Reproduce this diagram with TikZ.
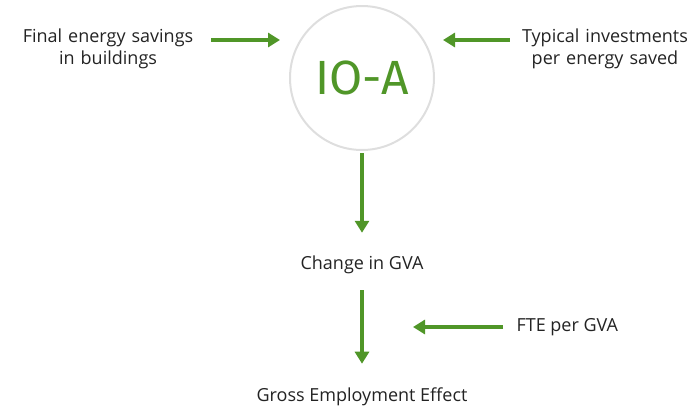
\documentclass[tikz,border=0pt]{standalone}
\usepackage{fontspec}
\setmainfont{Open Sans}
\newfontfamily\ringfont{Fira Sans}
\usetikzlibrary{arrows.meta,positioning}
\definecolor{ecgreen}{RGB}{80,150,40}
\definecolor{ringgrey}{RGB}{222,222,222}
\definecolor{labelgrey}{RGB}{35,35,35}
\tikzset{
  label text/.style={font=\fontsize{18}{22}\selectfont,text=labelgrey,align=center},
  flow/.style={draw=ecgreen,line width=4pt,-{Triangle[width=14pt,length=12pt]}},
}

\begin{document}
\begin{tikzpicture}[x=1pt,y=-1pt]
\useasboundingbox (0,0) rectangle (694,407);
% model ring
\node[circle,draw=ringgrey,line width=2pt,minimum size=144,inner sep=0pt,
      text=ecgreen,font=\ringfont\fontsize{48}{48}\selectfont] (ioa) at (362,78) {IO-A};

% inputs and outputs
\node[label text,text width=180] (save) at (108,49.3) {Final energy savings\\in buildings};
\node[label text,text width=175] (invest) at (605,49.3) {Typical investments\\per energy saved};
\node[label text] (gva) at (362,265) {Change in GVA};
\node[label text,anchor=west] (fte) at (513,327) {FTE per GVA};
\node[label text] (gross) at (362,396.3) {Gross Employment Effect};
\coordinate (fteend) at (413,327);

% flows
\draw[flow,shorten <=9.7,shorten >=9] ([yshift=9.3]save.east) -- ([yshift=9.3]save.east -| ioa.west);
\draw[flow,shorten <=4.2,shorten >=8] ([yshift=9.3]invest.west) -- ([yshift=9.3]invest.west -| ioa.east);
\draw[flow,shorten <=2,shorten >=19.7] (ioa.south) -- (gva.north);
\draw[flow,shorten <=12.7,shorten >=20] (gva.south) -- (gross.north);
\draw[flow,shorten <=10] (fte.west) -- (fteend);
\end{tikzpicture}
\end{document}
